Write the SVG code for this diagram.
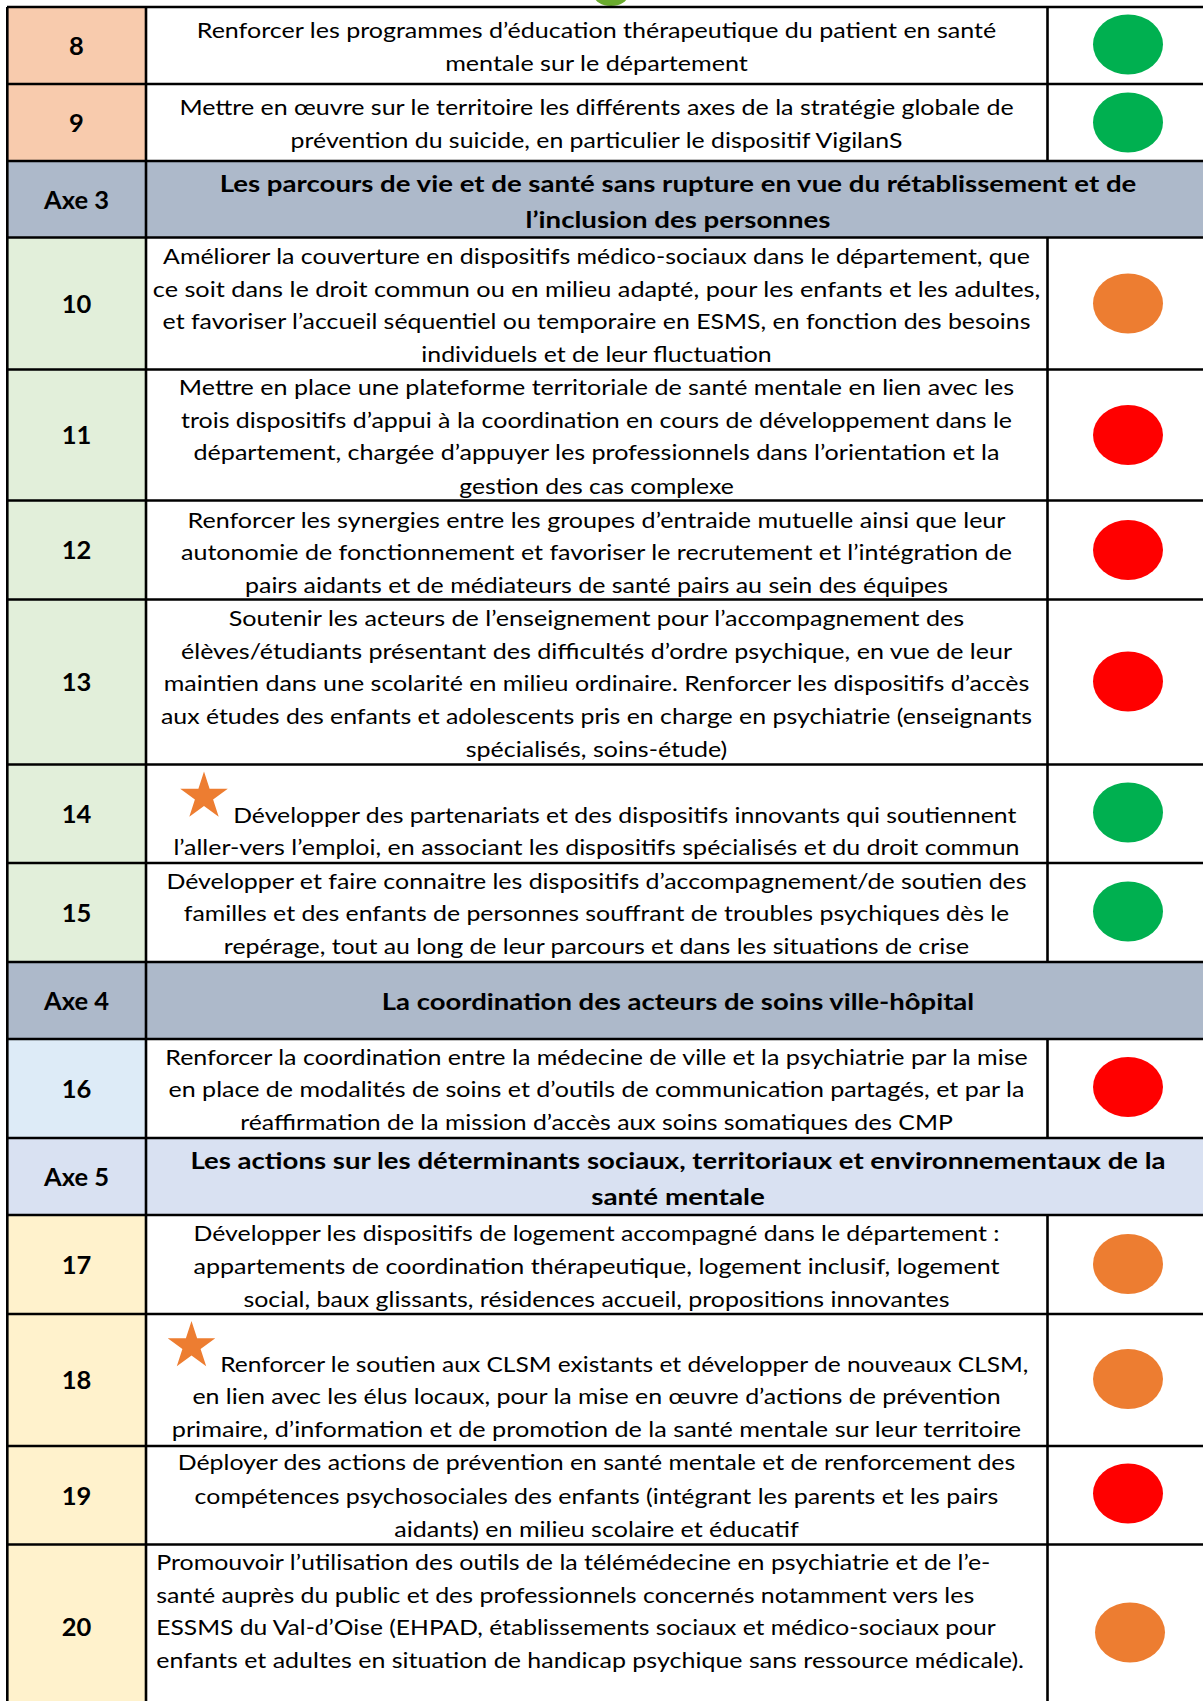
<svg xmlns="http://www.w3.org/2000/svg" width="1203" height="1701" viewBox="0 0 1203 1701">
<style>
.t{font-family:Lato,"Open Sans","Liberation Sans",sans-serif;font-size:22px;fill:#000}
.c{text-anchor:middle}
.h{font-family:Lato,"Open Sans","Liberation Sans",sans-serif;font-size:23.5px;font-weight:bold;text-anchor:middle;fill:#000}
.n{font-family:Lato,"Open Sans","Liberation Sans",sans-serif;font-size:25.5px;font-weight:bold;text-anchor:middle;fill:#000}
.peach{fill:#F8CBAD}.axe{fill:#ADB9CA}.grn{fill:#E2EFDA}.blu{fill:#DDEBF7}.ax5{fill:#D9E1F2}.yel{fill:#FFF2CC}
.g{fill:#00B050}.o{fill:#ED7D31}.r{fill:#FF0000}
.ln{stroke:#000;stroke-width:2.6;fill:none}
</style>
<defs>
<polygon id="star" points="0,-25 5.6,-7.7 23.8,-7.7 9.1,2.9 14.7,20.2 0,9.5 -14.7,20.2 -9.1,2.9 -23.8,-7.7 -5.6,-7.7" fill="#ED7D31"/>
</defs>
<rect x="0" y="0" width="1203" height="1701" fill="#fff"/>
<ellipse cx="611" cy="-5" rx="17" ry="11" fill="#6AAB2E"/>

<g id="row8">
<rect class="peach" x="7" y="7" width="139" height="77"/>
<text class="n" x="76.5" y="55">8</text>
<text class="t c" x="596.5" y="38.4" textLength="799.5" lengthAdjust="spacingAndGlyphs">Renforcer les programmes d’éducation thérapeutique du patient en santé</text>
<text class="t c" x="596.5" y="70.9" textLength="302.7" lengthAdjust="spacingAndGlyphs">mentale sur le département</text>
<ellipse class="g" cx="1128" cy="44.5" rx="35" ry="30"/>
</g>

<g id="row9">
<rect class="peach" x="7" y="84" width="139" height="77"/>
<text class="n" x="76.5" y="132">9</text>
<text class="t c" x="596.5" y="115.4" textLength="834.2" lengthAdjust="spacingAndGlyphs">Mettre en œuvre sur le territoire les différents axes de la stratégie globale de</text>
<text class="t c" x="596.5" y="147.9" textLength="611.8" lengthAdjust="spacingAndGlyphs">prévention du suicide, en particulier le dispositif VigilanS</text>
<ellipse class="g" cx="1128" cy="122.5" rx="35" ry="30"/>
</g>

<g id="axe3">
<rect class="axe" x="7" y="161" width="1196" height="76.5"/>
<text class="n" x="76.5" y="209">Axe 3</text>
<text class="h" x="678" y="192" textLength="916.7" lengthAdjust="spacingAndGlyphs">Les parcours de vie et de santé sans rupture en vue du rétablissement et de</text>
<text class="h" x="678" y="228" textLength="304.8" lengthAdjust="spacingAndGlyphs">l’inclusion des personnes</text>
</g>

<g id="row10">
<rect class="grn" x="7" y="237.5" width="139" height="132"/>
<text class="n" x="76.5" y="312.5">10</text>
<text class="t c" x="596.5" y="264" textLength="866.8" lengthAdjust="spacingAndGlyphs">Améliorer la couverture en dispositifs médico-sociaux dans le département, que</text>
<text class="t c" x="596.5" y="296.6" textLength="887.4" lengthAdjust="spacingAndGlyphs">ce soit dans le droit commun ou en milieu adapté, pour les enfants et les adultes,</text>
<text class="t c" x="596.5" y="329.1" textLength="867.8" lengthAdjust="spacingAndGlyphs">et favoriser l’accueil séquentiel ou temporaire en ESMS, en fonction des besoins</text>
<text class="t c" x="596.5" y="361.6" textLength="350.4" lengthAdjust="spacingAndGlyphs">individuels et de leur fluctuation</text>
<ellipse class="o" cx="1128" cy="303.5" rx="35" ry="30"/>
</g>

<g id="row11">
<rect class="grn" x="7" y="369.5" width="139" height="131"/>
<text class="n" x="76.5" y="444">11</text>
<text class="t c" x="596.5" y="395.3" textLength="835.3" lengthAdjust="spacingAndGlyphs">Mettre en place une plateforme territoriale de santé mentale en lien avec les</text>
<text class="t c" x="596.5" y="427.8" textLength="831" lengthAdjust="spacingAndGlyphs">trois dispositifs d’appui à la coordination en cours de développement dans le</text>
<text class="t c" x="596.5" y="460.4" textLength="806" lengthAdjust="spacingAndGlyphs">département, chargée d’appuyer les professionnels dans l’orientation et la</text>
<text class="t c" x="596.5" y="494" textLength="274.5" lengthAdjust="spacingAndGlyphs">gestion des cas complexe</text>
<ellipse class="r" cx="1128" cy="435" rx="35" ry="30"/>
</g>

<g id="row12">
<rect class="grn" x="7" y="500.5" width="139" height="99"/>
<text class="n" x="76.5" y="559">12</text>
<text class="t c" x="596.5" y="527.6" textLength="818" lengthAdjust="spacingAndGlyphs">Renforcer les synergies entre les groupes d’entraide mutuelle ainsi que leur</text>
<text class="t c" x="596.5" y="560.2" textLength="831" lengthAdjust="spacingAndGlyphs">autonomie de fonctionnement et favoriser le recrutement et l’intégration de</text>
<text class="t c" x="596.5" y="592.7" textLength="703" lengthAdjust="spacingAndGlyphs">pairs aidants et de médiateurs de santé pairs au sein des équipes</text>
<ellipse class="r" cx="1128" cy="550" rx="35" ry="30"/>
</g>

<g id="row13">
<rect class="grn" x="7" y="599.5" width="139" height="165"/>
<text class="n" x="76.5" y="691">13</text>
<text class="t c" x="596.5" y="626.3" textLength="735.5" lengthAdjust="spacingAndGlyphs">Soutenir les acteurs de l’enseignement pour l’accompagnement des</text>
<text class="t c" x="596.5" y="658.9" textLength="831" lengthAdjust="spacingAndGlyphs">élèves/étudiants présentant des difficultés d’ordre psychique, en vue de leur</text>
<text class="t c" x="596.5" y="691.4" textLength="865.7" lengthAdjust="spacingAndGlyphs">maintien dans une scolarité en milieu ordinaire. Renforcer les dispositifs d’accès</text>
<text class="t c" x="596.5" y="724" textLength="871.1" lengthAdjust="spacingAndGlyphs">aux études des enfants et adolescents pris en charge en psychiatrie (enseignants</text>
<text class="t c" x="596.5" y="756.5" textLength="261.4" lengthAdjust="spacingAndGlyphs">spécialisés, soins-étude)</text>
<ellipse class="r" cx="1128" cy="681.5" rx="35" ry="30"/>
</g>

<g id="row14">
<rect class="grn" x="7" y="764.5" width="139" height="98.5"/>
<text class="n" x="76.5" y="822.5">14</text>
<use href="#star" x="204" y="796.5"/>
<text class="t" x="233.2" y="822.7" textLength="783.2" lengthAdjust="spacingAndGlyphs">Développer des partenariats et des dispositifs innovants qui soutiennent</text>
<text class="t c" x="596.5" y="855.2" textLength="846.1" lengthAdjust="spacingAndGlyphs">l’aller-vers l’emploi, en associant les dispositifs spécialisés et du droit commun</text>
<ellipse class="g" cx="1128" cy="812.5" rx="35" ry="30"/>
</g>

<g id="row15">
<rect class="grn" x="7" y="863" width="139" height="99"/>
<text class="n" x="76.5" y="921.5">15</text>
<text class="t c" x="596.5" y="888.9" textLength="860.2" lengthAdjust="spacingAndGlyphs">Développer et faire connaitre les dispositifs d’accompagnement/de soutien des</text>
<text class="t c" x="596.5" y="921.4" textLength="825.5" lengthAdjust="spacingAndGlyphs">familles et des enfants de personnes souffrant de troubles psychiques dès le</text>
<text class="t c" x="596.5" y="954" textLength="745.3" lengthAdjust="spacingAndGlyphs">repérage, tout au long de leur parcours et dans les situations de crise</text>
<ellipse class="g" cx="1128" cy="911.5" rx="35" ry="30"/>
</g>

<g id="axe4">
<rect class="axe" x="7" y="962" width="1196" height="77"/>
<text class="n" x="76.5" y="1009.5">Axe 4</text>
<text class="h" x="678" y="1010" textLength="592.3" lengthAdjust="spacingAndGlyphs">La coordination des acteurs de soins ville-hôpital</text>
</g>

<g id="row16">
<rect class="blu" x="7" y="1039" width="139" height="99"/>
<text class="n" x="76.5" y="1097.5">16</text>
<text class="t c" x="596.5" y="1064.6" textLength="862.4" lengthAdjust="spacingAndGlyphs">Renforcer la coordination entre la médecine de ville et la psychiatrie par la mise</text>
<text class="t c" x="596.5" y="1097.1" textLength="855.9" lengthAdjust="spacingAndGlyphs">en place de modalités de soins et d’outils de communication partagés, et par la</text>
<text class="t c" x="596.5" y="1129.7" textLength="712.7" lengthAdjust="spacingAndGlyphs">réaffirmation de la mission d’accès aux soins somatiques des CMP</text>
<ellipse class="r" cx="1128" cy="1087" rx="35" ry="30"/>
</g>

<g id="axe5">
<rect class="ax5" x="7" y="1138" width="1196" height="77"/>
<text class="n" x="76.5" y="1185.5">Axe 5</text>
<text class="h" x="678" y="1168.5" textLength="975.2" lengthAdjust="spacingAndGlyphs">Les actions sur les déterminants sociaux, territoriaux et environnementaux de la</text>
<text class="h" x="678" y="1204.5" textLength="173.6" lengthAdjust="spacingAndGlyphs">santé mentale</text>
</g>

<g id="row17">
<rect class="yel" x="7" y="1215" width="139" height="99"/>
<text class="n" x="76.5" y="1273.5">17</text>
<text class="t c" x="596.5" y="1241.4" textLength="806" lengthAdjust="spacingAndGlyphs">Développer les dispositifs de logement accompagné dans le département :</text>
<text class="t c" x="596.5" y="1274" textLength="806" lengthAdjust="spacingAndGlyphs">appartements de coordination thérapeutique, logement inclusif, logement</text>
<text class="t c" x="596.5" y="1306.5" textLength="706.2" lengthAdjust="spacingAndGlyphs">social, baux glissants, résidences accueil, propositions innovantes</text>
<ellipse class="o" cx="1128" cy="1264" rx="35" ry="30"/>
</g>

<g id="row18">
<rect class="yel" x="7" y="1314" width="139" height="132"/>
<text class="n" x="76.5" y="1389">18</text>
<use href="#star" x="191.5" y="1346"/>
<text class="t" x="220.2" y="1371.6" textLength="808.2" lengthAdjust="spacingAndGlyphs">Renforcer le soutien aux CLSM existants et développer de nouveaux CLSM,</text>
<text class="t c" x="596.5" y="1404.1" textLength="808.2" lengthAdjust="spacingAndGlyphs">en lien avec les élus locaux, pour la mise en œuvre d’actions de prévention</text>
<text class="t c" x="596.5" y="1436.7" textLength="849.4" lengthAdjust="spacingAndGlyphs">primaire, d’information et de promotion de la santé mentale sur leur territoire</text>
<ellipse class="o" cx="1128" cy="1379" rx="35" ry="30"/>
</g>

<g id="row19">
<rect class="yel" x="7" y="1446" width="139" height="98.5"/>
<text class="n" x="76.5" y="1504.5">19</text>
<text class="t c" x="596.5" y="1470.3" textLength="837.5" lengthAdjust="spacingAndGlyphs">Déployer des actions de prévention en santé mentale et de renforcement des</text>
<text class="t c" x="596.5" y="1504" textLength="803.8" lengthAdjust="spacingAndGlyphs">compétences psychosociales des enfants (intégrant les parents et les pairs</text>
<text class="t c" x="596.5" y="1536.5" textLength="404.6" lengthAdjust="spacingAndGlyphs">aidants) en milieu scolaire et éducatif</text>
<ellipse class="r" cx="1128" cy="1493.5" rx="35" ry="30"/>
</g>

<g id="row20">
<rect class="yel" x="7" y="1544.5" width="139" height="160"/>
<text class="n" x="76.5" y="1636">20</text>
<text class="t" x="156.2" y="1570.1" textLength="834.2" lengthAdjust="spacingAndGlyphs">Promouvoir l’utilisation des outils de la télémédecine en psychiatrie et de l’e-</text>
<text class="t" x="156.2" y="1602.7" textLength="818" lengthAdjust="spacingAndGlyphs">santé auprès du public et des professionnels concernés notamment vers les</text>
<text class="t" x="156.2" y="1635.2" textLength="839.6" lengthAdjust="spacingAndGlyphs">ESSMS du Val-d’Oise (EHPAD, établissements sociaux et médico-sociaux pour</text>
<text class="t" x="156.2" y="1667.7" textLength="867.8" lengthAdjust="spacingAndGlyphs">enfants et adultes en situation de handicap psychique sans ressource médicale).</text>
<ellipse class="o" cx="1130" cy="1632.5" rx="35" ry="30"/>
</g>

<g id="grid" class="ln">
<path d="M7,7H1203 M7,84H1203 M7,161H1203 M7,237.5H1203 M7,369.5H1203 M7,500.5H1203 M7,599.5H1203 M7,764.5H1203 M7,863H1203 M7,962H1203 M7,1039H1203 M7,1138H1203 M7,1215H1203 M7,1314H1203 M7,1446H1203 M7,1544.5H1203"/>
<path d="M7.3,7V1701 M146,7V1701"/>
<path d="M1047.5,7V161 M1047.5,237.5V962 M1047.5,1039V1138 M1047.5,1215V1701"/>
</g>
</svg>
